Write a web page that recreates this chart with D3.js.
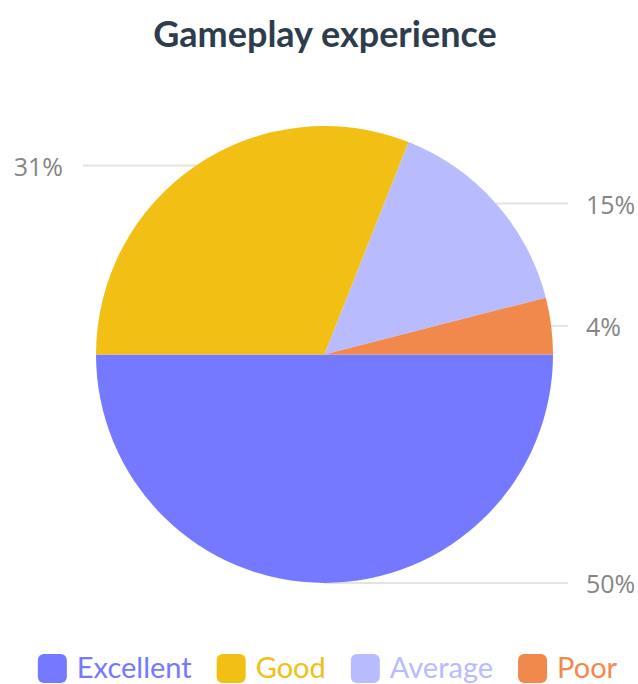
<!DOCTYPE html>
<html>
<head>
<meta charset="utf-8">
<script src="https://cdn.jsdelivr.net/npm/d3@7"></script>
<style>
  html, body { margin: 0; padding: 0; background: #fff; }
  svg { display: block; }
</style>
</head>
<body>
<svg id="chart" width="638" height="684"></svg>
<script>
// Survey results: gameplay experience ratings
const categories = ["Excellent", "Good", "Average", "Poor"];
const shares = [50, 31, 15, 4];
const sliceColors = ["#7579ff", "#f2c014", "#b9bbff", "#f2894c"];
const chartTitle = "Gameplay experience";

const width = 638, height = 684;
const cx = 324.5, cy = 354.5, radius = 228.5;

const svg = d3.select("#chart");

const data = categories.map((c, i) => ({ name: c, value: shares[i], color: sliceColors[i] }));

// Title
svg.append("text")
  .attr("x", 325)
  .attr("y", 47)
  .attr("text-anchor", "middle")
  .style("font-family", "Lato, sans-serif")
  .style("font-weight", "700")
  .style("font-size", "36px")
  .style("fill", "#2e3d4d")
  .text(chartTitle);

// Pie layout starting at 3 o'clock, going clockwise
const pie = d3.pie()
  .sort(null)
  .value(d => d.value)
  .startAngle(Math.PI / 2)
  .endAngle(Math.PI / 2 + 2 * Math.PI);

const arcs = pie(data);
const arc = d3.arc().innerRadius(0).outerRadius(radius);

const g = svg.append("g").attr("transform", `translate(${cx},${cy})`);

// Leader lines from the slice's outer mid-point to the label column
const leftX = 83 - cx, rightX = 568 - cx;
const labelInfo = arcs.map(a => {
  const mid = (a.startAngle + a.endAngle) / 2;
  const px = radius * Math.sin(mid);
  const py = -radius * Math.cos(mid);
  const left = px < -1;
  return { a, px, py, left };
});

g.selectAll("line.leader")
  .data(labelInfo)
  .join("line")
  .attr("class", "leader")
  .attr("x1", d => d.px)
  .attr("y1", d => d.py)
  .attr("x2", d => d.left ? leftX : rightX)
  .attr("y2", d => d.py)
  .attr("stroke", "#e3e3e3")
  .attr("stroke-width", 2);

// Slices
g.selectAll("path.slice")
  .data(arcs)
  .join("path")
  .attr("class", "slice")
  .attr("d", arc)
  .attr("fill", d => d.data.color);

// Percentage labels
g.selectAll("text.pct")
  .data(labelInfo)
  .join("text")
  .attr("class", "pct")
  .attr("x", d => d.left ? leftX - 20 : rightX + 18)
  .attr("y", d => d.py + 1.5)
  .attr("dy", "0.35em")
  .attr("text-anchor", d => d.left ? "end" : "start")
  .style("font-family", "'Open Sans', sans-serif")
  .style("font-size", "25px")
  .style("fill", "#858585")
  .text(d => d.a.data.value + "%");

// Legend
const legend = svg.append("g");
const items = legend.selectAll("g.item")
  .data(data)
  .join("g")
  .attr("class", "item");

items.append("rect")
  .attr("width", 29)
  .attr("height", 29)
  .attr("rx", 6)
  .attr("y", 654)
  .attr("fill", d => d.color);

items.append("text")
  .attr("x", 39)
  .attr("y", 678)
  .style("font-family", "Lato, sans-serif")
  .style("font-size", "29px")
  .style("fill", d => d.color)
  .text(d => d.name);

let offset = 0;
const gap = 25;
items.each(function () {
  const w = 39 + this.querySelector("text").getComputedTextLength();
  d3.select(this).attr("transform", `translate(${offset},0)`);
  offset += w + gap;
});
const total = offset - gap;
legend.attr("transform", `translate(${327.5 - total / 2},0)`);
</script>
</body>
</html>
